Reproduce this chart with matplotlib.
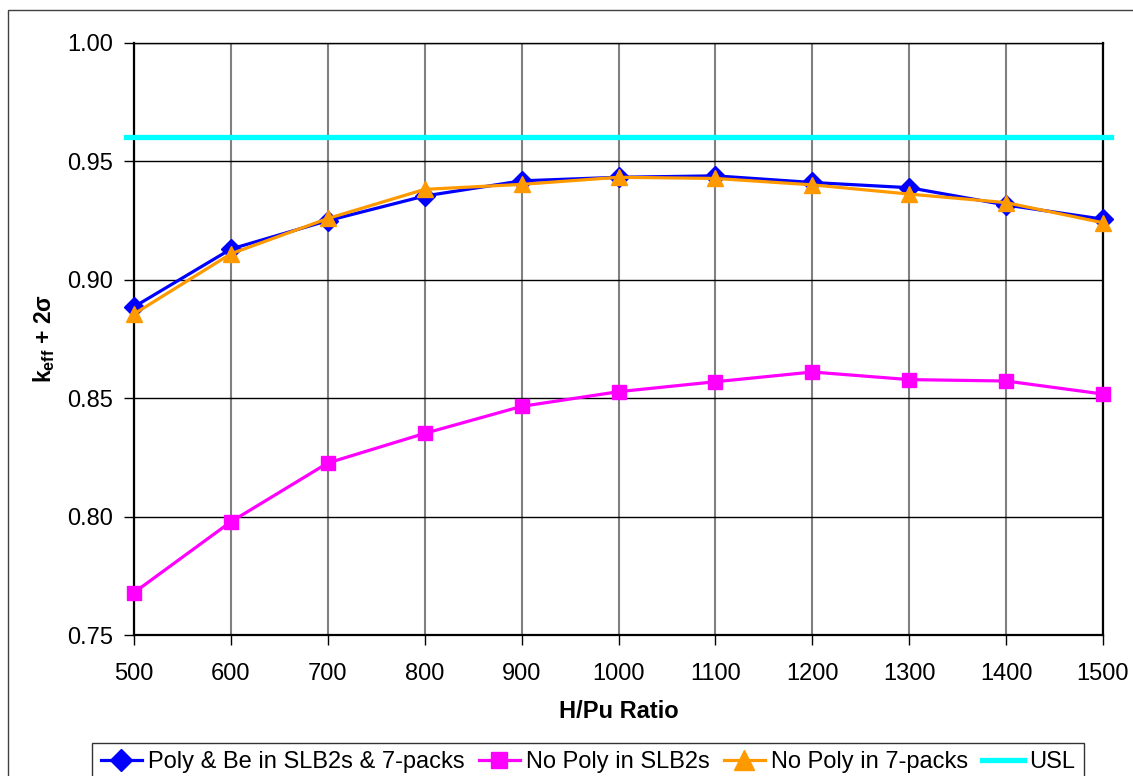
import numpy as np
import matplotlib.pyplot as plt
from matplotlib.patches import Rectangle

plt.rcParams['font.family'] = ['Liberation Sans', 'DejaVu Sans']
plt.rcParams['mathtext.fontset'] = 'custom'
plt.rcParams['mathtext.rm'] = 'Liberation Sans:bold'
plt.rcParams['mathtext.it'] = 'Liberation Sans:bold'
plt.rcParams['mathtext.bf'] = 'Liberation Sans:bold'

# -----------------------------
# Data
# -----------------------------
h_pu = [500, 600, 700, 800, 900, 1000, 1100, 1200, 1300, 1400, 1500]

poly_be = [0.8885, 0.9129, 0.9249, 0.9353, 0.9417, 0.9432, 0.9438, 0.9410, 0.9388, 0.9315, 0.9255]
no_poly_slb2 = [0.7679, 0.7978, 0.8226, 0.8351, 0.8465, 0.8527, 0.8569, 0.8610, 0.8578, 0.8572, 0.8517]
no_poly_7pack = [0.8855, 0.9109, 0.9258, 0.9381, 0.9402, 0.9432, 0.9427, 0.9400, 0.9361, 0.9325, 0.9240]

usl_x = [492, 1508]
usl = [0.96, 0.96]

# -----------------------------
# Plot
# -----------------------------
fig = plt.figure(figsize=(11.33, 7.76), dpi=100)
ax = fig.add_axes([134 / 1133, 1 - 635 / 776, (1103 - 134) / 1133, (635 - 42.7) / 776])

ax.plot(h_pu, poly_be, color='#0000FF', lw=2.3, marker='D', ms=10, label='Poly & Be in SLB2s & 7-packs',
        zorder=3, clip_on=False)
ax.plot(h_pu, no_poly_slb2, color='#FF00FF', lw=2.3, marker='s', ms=10, label='No Poly in SLB2s',
        zorder=3, clip_on=False)
ax.plot(h_pu, no_poly_7pack, color='#FF9900', lw=2.3, marker='^', ms=12, label='No Poly in 7-packs',
        zorder=4, clip_on=False)
ax.plot(usl_x, usl, color='#00FFFF', lw=3.8, label='USL', clip_on=False, zorder=3)

ax.set_xlim(500, 1500)
ax.set_ylim(0.75, 1.00)
ax.set_xticks(np.arange(500, 1501, 100))
ax.set_yticks(np.arange(0.75, 1.001, 0.05))
ax.set_yticklabels([f'{v:.2f}' for v in np.arange(0.75, 1.001, 0.05)])

ax.xaxis.grid(True, color='#808080', lw=1.5)
ax.yaxis.grid(True, color='black', lw=1.0)
ax.set_axisbelow(True)

for s in ['left', 'right', 'bottom']:
    ax.spines[s].set_color('black')
    ax.spines[s].set_linewidth(1.6)
ax.spines['top'].set_linewidth(1.0)

ax.tick_params(axis='both', direction='out', length=7, width=1, labelsize=17, colors='black')
ax.tick_params(axis='x', pad=13)
ax.tick_params(axis='y', pad=8)

ax.set_xlabel('H/Pu Ratio', fontsize=17, fontweight='bold', labelpad=11)
ax.set_ylabel(r'k$_{\mathrm{eff}}$ + 2σ', fontsize=16.5, fontweight='bold', labelpad=7)

# outer chart border
fig.patches.append(Rectangle((8 / 1133, -0.1), 1.2, 1.1 - 10 / 776, transform=fig.transFigure,
                             fill=False, edgecolor='#404040', lw=1.0))

leg = fig.legend(loc='upper center', bbox_to_anchor=(588 / 1133, 1 - 743 / 776), ncol=4,
                 fontsize=17, frameon=True, fancybox=False, edgecolor='black',
                 handlelength=1.75, handletextpad=0.25, columnspacing=0.6, borderpad=0.35,
                 borderaxespad=0, markerscale=1.15)
leg.get_frame().set_linewidth(1.0)

fig.savefig('out.png', dpi=100)
